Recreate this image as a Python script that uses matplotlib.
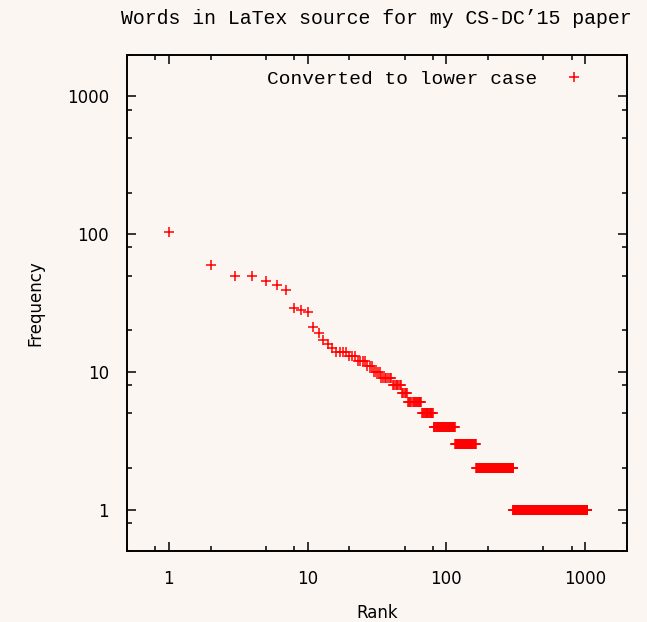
import numpy as np
import matplotlib
matplotlib.use('Agg')
import matplotlib.pyplot as plt
from matplotlib.ticker import LogLocator, FixedLocator, FuncFormatter, NullFormatter

# word counts for the most frequent words (rank 1, 2, 3, ...)
top_freq = [103, 60, 50, 50, 46, 43, 39, 29, 28, 27,
            21, 19, 17, 16, 15, 14, 14, 14, 14, 13,
            13, 13, 12, 12, 12, 12, 11, 11, 11]

# the rest of the words: each count value and the last rank that has it
tail_freq = [10, 9, 8, 7, 6, 5, 4, 3, 2, 1]
tail_last_rank = [33, 40, 47, 52, 66, 80, 115, 163, 302, 1036]

freq = list(top_freq)
for f, last in zip(tail_freq, tail_last_rank):
    freq += [f] * (last - len(freq))
freq = np.array(freq)
rank = np.arange(1, len(freq) + 1)

bg = '#fcf6f3'
mono = 'Liberation Mono'

fig = plt.figure(figsize=(6.47, 6.22), dpi=100, facecolor=bg)
ax = fig.add_axes([127/647, 1 - 551/622, 500/647, 496/622])
ax.set_facecolor(bg)

ax.plot(rank, freq, linestyle='none', marker='+', color='#ff0000',
        markersize=7, markeredgewidth=1.1, label='Converted to lower case')

ax.set_xscale('log')
ax.set_yscale('log')
ax.set_xlim(0.5, 2000)
ax.set_ylim(0.5, 2000)

majors = [1, 10, 100, 1000]
for axis in (ax.xaxis, ax.yaxis):
    axis.set_major_locator(FixedLocator(majors))
    axis.set_major_formatter(FuncFormatter(lambda v, p: '%g' % v))
    axis.set_minor_locator(LogLocator(base=10, subs=[2, 5, 8], numticks=20))
    axis.set_minor_formatter(NullFormatter())

ax.tick_params(which='both', direction='in', top=True, right=True, width=1.1,
               colors='black')
ax.tick_params(which='major', length=6.5, labelsize=12)
ax.tick_params(which='minor', length=3.4)
ax.tick_params(axis='x', which='major', pad=14)
ax.tick_params(axis='y', which='major', pad=13)

for s in ax.spines.values():
    s.set_linewidth(1.4)

ax.set_xlabel('Rank', fontsize=12, labelpad=11)
ax.set_ylabel('Frequency', fontsize=12, labelpad=16)

fig.text(632/647, 1 - 18/622, 'Words in LaTex source for my CS-DC\u201915 paper',
         ha='right', va='center', fontsize=14.3, family=mono)

leg = ax.legend(loc='upper right', bbox_to_anchor=(1 - 28/500, 1),
                frameon=False, markerfirst=False,
                prop={'family': mono, 'size': 14}, handlelength=1.0,
                handletextpad=1.4, borderaxespad=0.4)

fig.savefig('out.png', dpi=100, facecolor=bg)
